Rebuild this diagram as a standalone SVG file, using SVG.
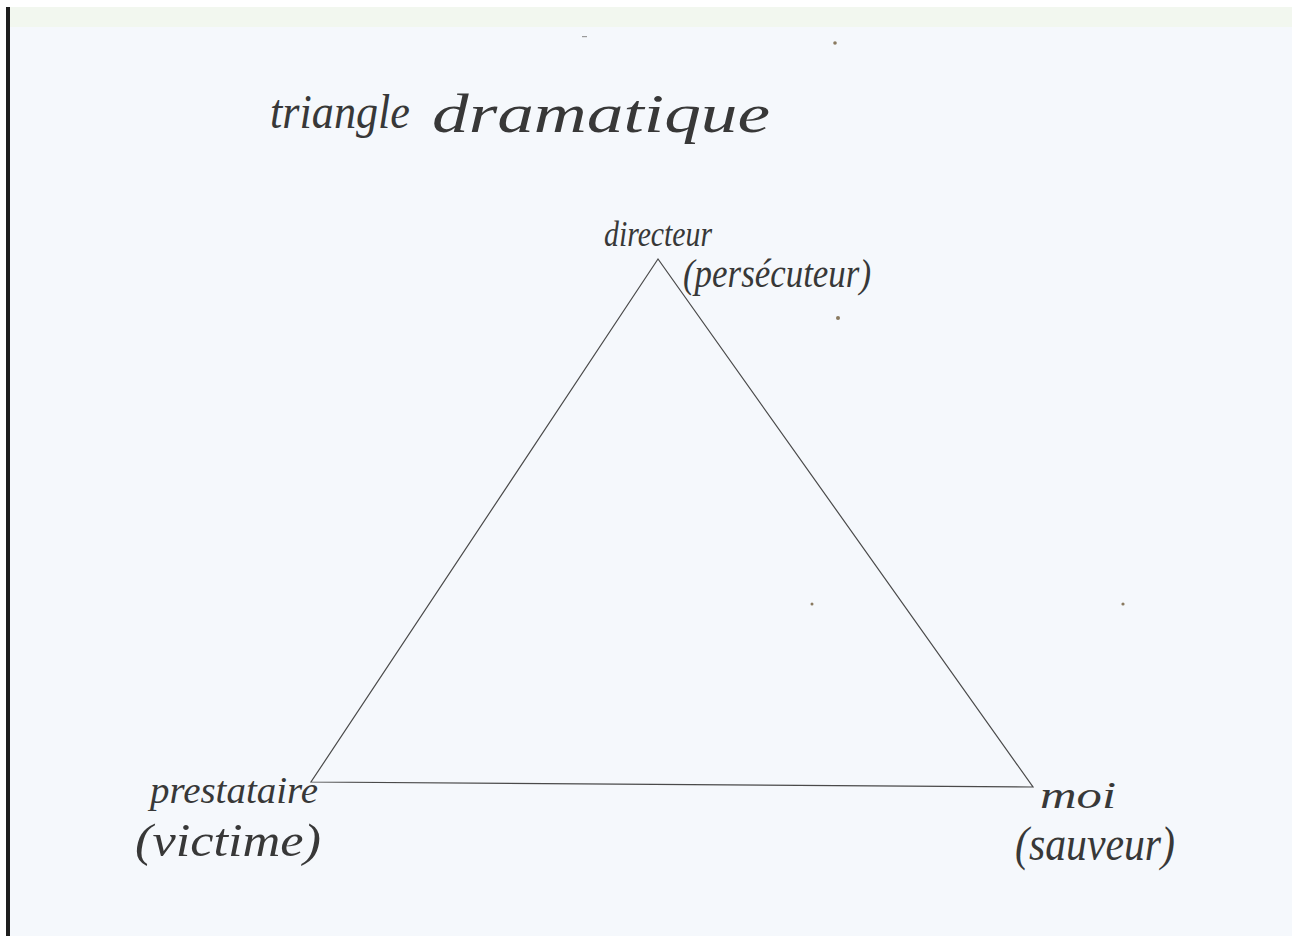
<svg xmlns="http://www.w3.org/2000/svg" width="1292" height="936" viewBox="0 0 1292 936">
<defs>
<style>
.hand{font-family:"Liberation Serif","DejaVu Serif",serif;font-style:italic;fill:#383838;}
.edge{stroke:#4a4a4a;stroke-width:1.2;fill:none;}
.speck{fill:#8a7a60;}
</style>
</defs>
<rect x="0" y="0" width="1292" height="936" fill="#ffffff"/>
<rect x="8" y="7" width="1284" height="929" fill="#f5f8fc"/>
<rect x="8" y="7" width="1284" height="20" fill="#f2f7ef"/>
<rect x="6" y="7" width="4" height="929" fill="#1e1e1e"/>
<g id="title">
<text class="hand" x="270" y="128" font-size="48" textLength="140" lengthAdjust="spacingAndGlyphs">triangle</text>
<text class="hand" x="432" y="132" font-size="54" textLength="338" lengthAdjust="spacingAndGlyphs">dramatique</text>
</g>
<g id="connectors">
<path class="edge" d="M658,259 L311,782 L1033,787 Z"/>
</g>
<g id="node-directeur">
<text class="hand" x="604" y="246" font-size="36" textLength="108" lengthAdjust="spacingAndGlyphs">directeur</text>
<text class="hand" x="683" y="287" font-size="40" textLength="188" lengthAdjust="spacingAndGlyphs">(persécuteur)</text>
</g>
<g id="node-prestataire">
<text class="hand" x="150" y="803" font-size="38" textLength="168" lengthAdjust="spacingAndGlyphs">prestataire</text>
<text class="hand" x="135" y="856" font-size="46" textLength="186" lengthAdjust="spacingAndGlyphs">(victime)</text>
</g>
<g id="node-moi">
<text class="hand" x="1040" y="808" font-size="38" textLength="76" lengthAdjust="spacingAndGlyphs">moi</text>
<text class="hand" x="1015" y="860" font-size="48" textLength="160" lengthAdjust="spacingAndGlyphs">(sauveur)</text>
</g>
<g id="specks">
<circle class="speck" cx="835" cy="43" r="1.8"/>
<circle class="speck" cx="838" cy="318" r="2"/>
<circle class="speck" cx="812" cy="604" r="1.5"/>
<circle class="speck" cx="1123" cy="604" r="1.6"/>
<rect x="582" y="36" width="5" height="1.2" fill="#9a9a9a"/>
</g>
</svg>
